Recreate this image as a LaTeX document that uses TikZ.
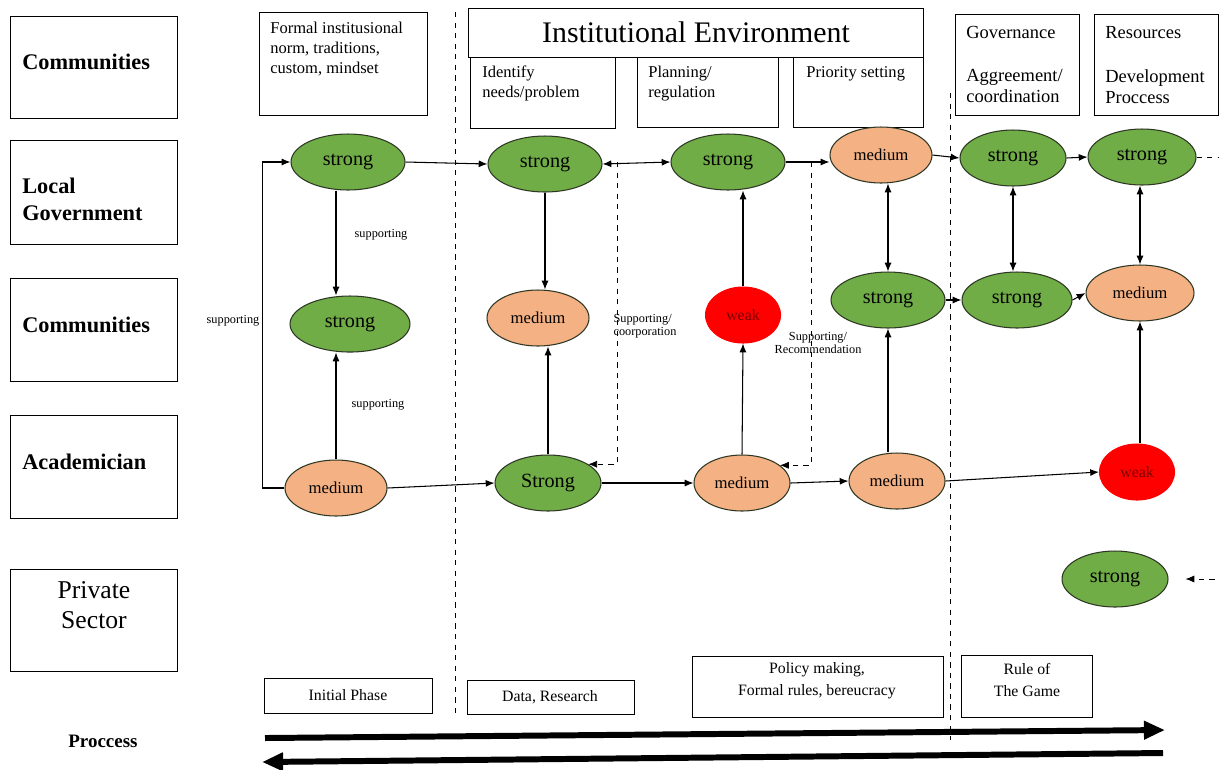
\documentclass[tikz,border=0pt]{standalone}
\usepackage{fontspec}
\setmainfont{Liberation Serif}
\usetikzlibrary{shapes.geometric, arrows.meta}
\definecolor{ovalgreen}{RGB}{112,173,71}
\definecolor{ovalorange}{RGB}{244,177,131}
\definecolor{ovalline}{RGB}{45,55,35}

\begin{document}
\begin{tikzpicture}[x=0.02cm, y=-0.02cm, >={Latex[length=5pt,width=4pt]},
    oval/.style={ellipse, draw=ovalline, line width=0.6pt, inner sep=0pt, minimum width=2.28cm, minimum height=1.12cm},
    greenoval/.style={oval, fill=ovalgreen, font=\fontsize{11.5}{13}\selectfont},
    orangeoval/.style={oval, fill=ovalorange, minimum width=2.04cm, font=\fontsize{9.5}{11}\selectfont},
    redoval/.style={oval, fill=red, draw=red, minimum width=1.5cm, text=red!45!black, font=\fontsize{9}{11}\selectfont},
    rowlbl/.style={anchor=west, align=left, inner sep=0pt, font=\bfseries\fontsize{12.7}{15.3}\selectfont},
    boxtxt/.style={anchor=north west, align=left, inner sep=0pt, font=\fontsize{9.4}{11.2}\selectfont},
    bigtxt/.style={anchor=north west, align=left, inner sep=0pt, font=\fontsize{10.5}{12}\selectfont},
    phase/.style={align=center, inner sep=0pt, font=\fontsize{9}{12.5}\selectfont},
    note/.style={align=left, inner sep=0pt, font=\fontsize{7}{7.6}\selectfont},
    conn/.style={semithick, ->}
]
\useasboundingbox (0,0) rectangle (1219,769);

% actors
\draw (10,16) rectangle (177,118);
\node[rowlbl] (comm1) at (22,62) {Communities};
\draw (10,140) rectangle (177,244);
\node[rowlbl] (locgov) at (22,199) {Local\\Government};
\draw (10,278) rectangle (177,381);
\node[rowlbl] (comm2) at (22,325) {Communities};
\draw (10,415) rectangle (177,518);
\node[rowlbl] (acad) at (22,462) {Academician};
\draw (10,569) rectangle (177,671);
\node[align=center, inner sep=0pt, font=\fontsize{14.6}{17}\selectfont] (priv) at (94,605) {Private\\Sector};
\node[inner sep=0pt, font=\bfseries\fontsize{10.8}{12}\selectfont] (proc) at (103,741) {Proccess};

% headers
\draw (259,12) rectangle (427,115);
\node[boxtxt] (formal) at (270,22) {Formal institusional\\norm, traditions,\\custom, mindset};
\draw (468,8) rectangle (923,57);
\node[inner sep=0pt, font=\fontsize{17}{20}\selectfont] (instenv) at (696,32) {Institutional Environment};
\draw (470,57) rectangle (615,128);
\node[boxtxt] (ident) at (482,66) {Identify\\needs/problem};
\draw (637,57) rectangle (778,127);
\node[boxtxt] (plan) at (648,66) {Planning/\\regulation};
\draw (793,57) rectangle (923,127);
\node[boxtxt] (prio) at (806,66) {Priority setting};
\draw (955,14) rectangle (1079,115);
\node[bigtxt] (gov) at (966,26) {Governance};
\node[bigtxt] (agree) at (966,69) {Aggreement/\\coordination};
\draw (1094,14) rectangle (1218,115);
\node[bigtxt] (res) at (1105,26) {Resources};
\node[bigtxt] (devel) at (1105,69) {Development\\Proccess};

\draw[dashed, thin] (455,12) -- (455,717);
\draw[dashed, thin] (950,93) -- (950,740);

% ovals
\node[greenoval] (LG1) at (348,162) {strong};
\node[greenoval] (LG2) at (545,164) {strong};
\node[greenoval] (LG3) at (728,162) {strong};
\node[orangeoval] (LG4) at (881,155) {medium};
\node[greenoval, minimum width=2.12cm] (LG5) at (1013,158) {strong};
\node[greenoval, minimum width=2.16cm] (LG6) at (1142,157) {strong};
\node[greenoval, minimum width=2.4cm] (C1) at (350,324) {strong};
\node[orangeoval] (C2) at (538,318) {medium};
\node[redoval] (C3) at (743,315) {weak};
\node[greenoval] (C4) at (888,300) {strong};
\node[greenoval, minimum width=2.2cm] (C5) at (1017,300) {strong};
\node[orangeoval, minimum width=2.16cm] (C6) at (1140,293) {medium};
\node[orangeoval] (A1) at (336,488) {medium};
\node[greenoval, minimum width=2.12cm] (A2) at (548,483) {Strong};
\node[orangeoval, minimum width=1.92cm] (A3) at (742,483) {medium};
\node[orangeoval, minimum width=1.92cm] (A4) at (897,481) {medium};
\node[redoval] (A5) at (1137,472) {weak};
\node[greenoval, minimum width=2.12cm] (P1) at (1115,579) {strong};

% connectors
\draw[conn] (A1.west) -- ++(-22,0) |- (LG1.west);
\node[note] (sup1) at (233,321) {supporting};
\draw[conn] (LG1.south -| A1.north) -- (C1.north -| A1.north);
\node[note] (sup2) at (381,235) {supporting};
\draw[conn] (A1.north) -- (C1.south -| A1.north);
\node[note] (sup3) at (378,405) {supporting};
\draw[conn] (LG1.east) -- (LG2.west);
\draw[conn] (A1.east) -- (A2.west);

\draw[conn] (LG2.south) -- (C2.north -| LG2.south);
\draw[conn] (A2.north) -- (C2.south -| A2.north);
\draw[conn, <->] (LG2.east) -- (LG3.west);
\coordinate (sc) at (617,162);
\draw[conn, dashed, thin] (sc) |- (A2.25);
\node[note] (coop) at (645,326) {Supporting/\\coorporation};
\draw[conn] (A2.east) -- (A3.west);

\draw[conn] (A3.north) -- (C3.south);
\draw[conn] (C3.north) -- (LG3.south -| C3.north);
\draw[conn] (LG3.east) -- (LG3.east -| LG4.west);
\coordinate (sr) at (811,162);
\draw[conn, dashed, thin] (sr) |- (A3.25);
\node[note, align=center] (recom) at (818,343) {Supporting/\\Recommendation};
\draw[conn] (A3.east) -- (A4.west);

\draw[conn, <->] (LG4.south -| C4.north) -- (C4.north);
\draw[conn] (A4.north -| C4.south) -- (C4.south);
\draw[conn] (LG4.east) -- (LG5.west);
\draw[conn] (C4.east) -- (C5.west);
\draw[conn, <->] (LG5.south) -- (C5.north -| LG5.south);
\draw[conn] (LG5.east) -- (LG6.west);
\draw[conn] (C5.east) -- (C6.west);
\draw[conn, <->] (LG6.south -| C6.north) -- (C6.north);
\draw[conn] (A5.north -| C6.south) -- (C6.south);
\draw[conn] (A4.east) -- (A5.west);
\draw[conn, dashed, thin] (LG6.east) -- ++(30,0) |- ([xshift=0.34cm]P1.east);

% phases
\draw (264,678) rectangle (432,713);
\node[phase] (init) at (348,695) {Initial Phase};
\draw (467,680) rectangle (634,714);
\node[phase] (data) at (550,697) {Data, Research};
\draw (692,656) rectangle (943,717);
\node[phase] (policy) at (817,681) {Policy making,\\Formal rules, bereucracy};
\draw (961,655) rectangle (1092,717);
\node[phase] (rule) at (1027,680) {Rule of\\The Game};

\coordinate (fwdA) at (265,738);
\coordinate (fwdB) at (1165,730);
\coordinate (bwdA) at (1163,753);
\coordinate (bwdB) at (262,762);
\draw[line width=3.4pt, -{Triangle[length=12pt,width=10pt]}] (fwdA) -- (fwdB);
\draw[line width=3.4pt, -{Triangle[length=12pt,width=10pt]}] (bwdA) -- (bwdB);
\end{tikzpicture}
\end{document}
